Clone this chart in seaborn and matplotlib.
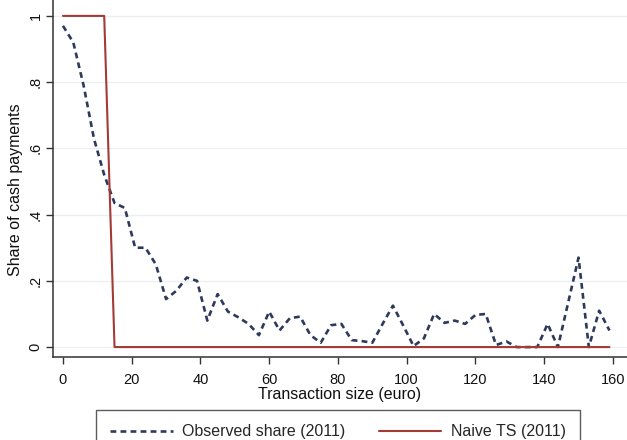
import matplotlib
matplotlib.use("Agg")
import matplotlib.pyplot as plt
import seaborn as sns
import pandas as pd

# transaction size bins (euro) and observed share of cash payments, 2011
size_bins = list(range(0, 160, 3))
observed_share = [
    0.97, 0.92, 0.79, 0.63, 0.52, 0.435, 0.42, 0.30, 0.30, 0.25,
    0.145, 0.17, 0.21, 0.20, 0.08, 0.16, 0.107, 0.09, 0.07, 0.036,
    0.107, 0.05, 0.087, 0.092, 0.036, 0.013, 0.066, 0.07, 0.021, 0.018,
    0.013, 0.07, 0.125, 0.065, 0.003, 0.026, 0.10, 0.073, 0.08, 0.07,
    0.097, 0.10, 0.006, 0.017, 0.0, 0.0, 0.0, 0.07, 0.0, 0.135,
    0.27, 0.0, 0.11, 0.05,
]

# naive threshold step
naive_x = [0, 12, 15, 159]
naive_share = [1, 1, 0, 0]

x_ticks = [0, 20, 40, 60, 80, 100, 120, 140, 160]
y_ticks = [0, 0.2, 0.4, 0.6, 0.8, 1.0]
y_tick_labels = ["0", ".2", ".4", ".6", ".8", "1"]

obs = pd.DataFrame({"size": size_bins, "share": observed_share})
naive = pd.DataFrame({"size": naive_x, "share": naive_share})

sns.set_theme(style="white")
plt.rcParams["font.family"] = ["Liberation Sans", "DejaVu Sans"]

navy = "#2e3a5c"
maroon = "#a33a36"

fig = plt.figure(figsize=(6.27, 4.4), dpi=100)
ax = fig.add_axes([53 / 627, 83 / 440, 574 / 627, 357 / 440])

# faint horizontal grid
for y in y_ticks:
    ax.axhline(y, color="#eceff2", lw=0.9, zorder=0)

sns.lineplot(data=obs, x="size", y="share", ax=ax, color=navy, lw=1.9,
             label="Observed share (2011)")
ax.lines[-1].set_dashes((2.2, 1.6))
sns.lineplot(data=naive, x="size", y="share", ax=ax, color=maroon, lw=1.5,
             label="Naive TS (2011)")

ax.set_xlim(-2.9, 164.1)
ax.set_ylim(-0.03, 1.048)
ax.set_xticks(x_ticks)
ax.set_yticks(y_ticks)
ax.set_yticklabels(y_tick_labels, rotation=90, va="center")
ax.tick_params(axis="both", bottom=True, left=True, length=5, width=1,
               direction="out", color="#333333", labelsize=10.5,
               labelcolor="#111111")
ax.tick_params(axis="x", pad=6.6)
ax.tick_params(axis="y", pad=2.5)

for side in ["top", "right"]:
    ax.spines[side].set_visible(False)
for side in ["left", "bottom"]:
    ax.spines[side].set_color("#333333")
    ax.spines[side].set_linewidth(1.1)

ax.set_xlabel("Transaction size (euro)", fontsize=11.5, color="#111111", labelpad=0)
ax.set_ylabel("Share of cash payments", fontsize=11.5, color="#111111")
ax.yaxis.set_label_coords(-30 / 574, 0.47)

handles, labels = ax.get_legend_handles_labels()
ax.get_legend().remove()
leg = fig.legend(handles, labels, loc="upper center", ncol=2,
                 bbox_to_anchor=(338 / 627, 1 - 410 / 440), fontsize=11.5,
                 frameon=True, fancybox=False, edgecolor="#333333",
                 handlelength=3.9, handletextpad=0.6, columnspacing=2.1,
                 borderpad=0.9, borderaxespad=0)
leg.get_frame().set_linewidth(1.0)

fig.savefig("out.png", dpi=100)
